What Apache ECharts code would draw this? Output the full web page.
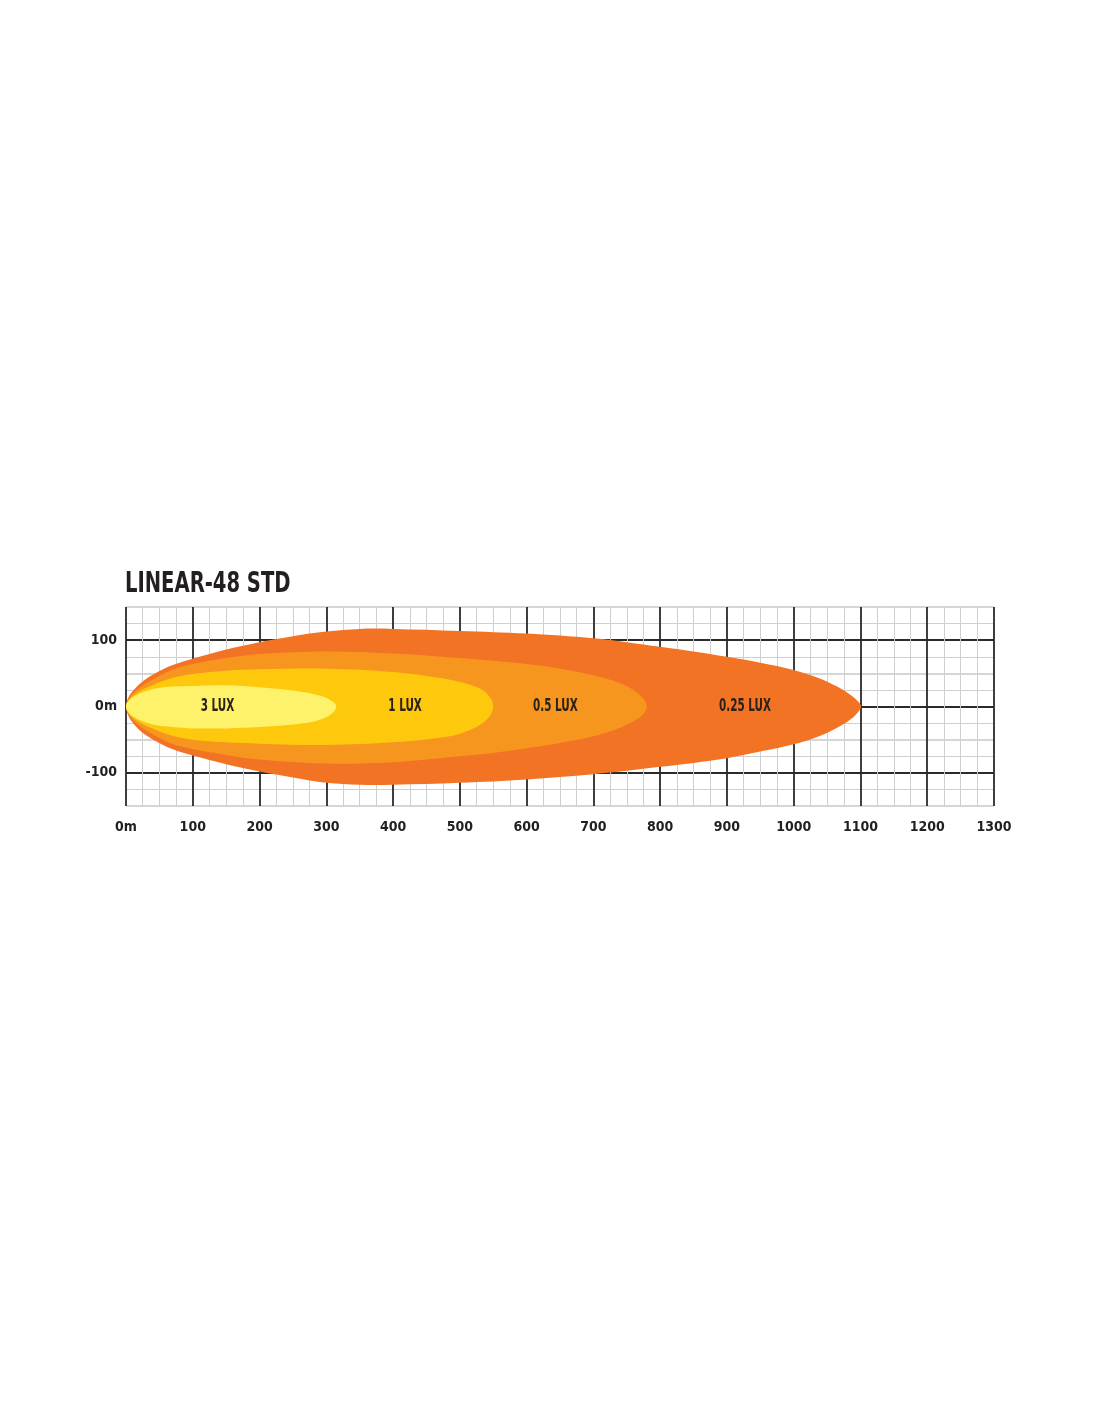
<!DOCTYPE html>
<html>
<head>
<meta charset="utf-8">
<script src="https://cdn.jsdelivr.net/npm/echarts@6/dist/echarts.min.js"></script>
<style>
html,body{margin:0;padding:0;background:#fff;}
#chart{width:1100px;height:1422px;}
</style>
</head>
<body>
<div id="chart"></div>
<script>
// ---- data (metres: distance x, lateral y); each contour starts at the lamp (0,0) ----
const TITLE = 'LINEAR-48 STD';
const X_TICKS = [0,100,200,300,400,500,600,700,800,900,1000,1100,1200,1300];
const Y_TICKS = [-100, 0, 100];

const LUX_025 = [
  [0,0],[2,10],[9,22],[24,37],[44,50],[69,62],[100,72],[150,86],[200,97],[250,106],[300,113],
  [350,117],[400,117],[500,114],[600,110],[700,103],[750,97],[800,90],[850,83],[900,75],[950,66],
  [1000,55],[1040,42],[1065,30],[1083,19],[1095,9],[1101,0],
  [1095,-10],[1083,-21],[1065,-32],[1040,-44],[1000,-57],[950,-68],[900,-78],[850,-85],[800,-91],
  [750,-97],[700,-102],[600,-110],[500,-115],[400,-118],[350,-118],[300,-115],[250,-107],
  [200,-98],[150,-87],[100,-74],[69,-64],[44,-52],[24,-39],[9,-23],[2,-10]
];
const LUX_05 = [
  [0,0],[2,8],[9,18],[24,31],[44,43],[69,55],[100,64],[150,73],[200,79],[300,83],[400,80],
  [500,73],[550,69],[600,64],[650,57],[700,47],[740,35],[764,22],[776,10],[780,0],
  [776,-10],[764,-20],[740,-32],[700,-45],[650,-55],[600,-63],[550,-70],[500,-75],[400,-84],
  [300,-86],[200,-80],[150,-73],[100,-64],[69,-56],[44,-44],[24,-32],[9,-19],[2,-8]
];
const LUX_1 = [
  [0,0],[2,7],[9,15],[24,25],[44,34],[69,43],[100,49],[150,54],[200,56],[300,57],[400,52],
  [470,43],[500,37],[530,27],[545,14],[550,0],
  [545,-14],[530,-28],[500,-41],[470,-47],[400,-54],[300,-58],[200,-56],[150,-54],[100,-50],
  [69,-44],[44,-35],[24,-26],[9,-16],[2,-7]
];
const LUX_3 = [
  [0,0],[2,6],[9,13],[24,21],[44,27],[69,30],[100,31],[150,32],[200,29],[250,24],[280,19],
  [298,14],[310,7],[315,0],
  [310,-9],[298,-17],[280,-23],[250,-27],[200,-31],[150,-33],[100,-33],[69,-31],[44,-28],
  [24,-22],[9,-14],[2,-6]
];
const LABELS = ['3 LUX', '1 LUX', '0.5 LUX', '0.25 LUX'];
const LABEL_X = [137, 418, 643, 927];

// ---- chart ----
const FONT = '"DejaVu Sans Condensed", "Liberation Sans Narrow", "DejaVu Sans", sans-serif';
const chart = echarts.init(document.getElementById('chart'), null, {renderer: 'canvas'});

function shapeSeries(name, pts, color, z) {
  return {
    type: 'custom', name: name, coordinateSystem: 'cartesian2d', silent: true, z: z,
    data: pts,
    renderItem: function (params, api) {
      if (params.dataIndex !== 0) return;
      const points = pts.map(function (p) { return api.coord(p); });
      points.push(points[0].slice()); // close the contour back at the lamp
      return {
        type: 'polyline',
        shape: {points: points, smooth: 0.35},
        style: {fill: color, stroke: null, lineWidth: 0}
      };
    }
  };
}

chart.setOption({
  backgroundColor: '#ffffff',
  animation: false,
  graphic: [{
    type: 'text', x: 125, y: 584, scaleX: 0.75, scaleY: 1,
    style: {
      text: TITLE, fill: '#231f20', verticalAlign: 'middle', align: 'left',
      font: 'bold 29px ' + FONT
    }
  }],
  grid: {left: 126, right: 106, top: 607, bottom: 616, containLabel: false},
  xAxis: {
    type: 'value', min: 0, max: 1300, interval: 100,
    axisLine: {show: false}, axisTick: {show: false},
    axisLabel: {
      margin: 14, fontFamily: FONT, fontWeight: 'bold', fontSize: 14, color: '#231f20',
      formatter: function (v) { return X_TICKS.indexOf(v) < 0 ? '' : (v === 0 ? '0m' : String(v)); }
    },
    splitLine: {show: true, lineStyle: {color: '#2a2a2a', width: 1.8}},
    minorTick: {show: false, splitNumber: 4},
    minorSplitLine: {show: true, lineStyle: {color: '#cfcfcf', width: 1}}
  },
  yAxis: {
    type: 'value', min: -150, max: 150, interval: 50,
    axisLine: {show: false}, axisTick: {show: false},
    axisLabel: {
      margin: 9, fontFamily: FONT, fontWeight: 'bold', fontSize: 14, color: '#231f20',
      formatter: function (v) { return Y_TICKS.indexOf(v) < 0 ? '' : (v === 0 ? '0m' : String(v)); }
    },
    splitLine: {show: true, lineStyle: {color: ['#d6d6d6', '#2a2a2a'], width: 1.8}},
    minorTick: {show: false, splitNumber: 2},
    minorSplitLine: {show: true, lineStyle: {color: '#cfcfcf', width: 1}}
  },
  series: [
    shapeSeries('0.25 LUX', LUX_025, '#F37325', 2),
    shapeSeries('0.5 LUX', LUX_05, '#F7961F', 3),
    shapeSeries('1 LUX', LUX_1, '#FEC90D', 4),
    shapeSeries('3 LUX', LUX_3, '#FEF26A', 5),
    {
      type: 'custom', name: 'labels', coordinateSystem: 'cartesian2d', silent: true, z: 10,
      data: LABELS.map(function (t, i) { return [LABEL_X[i], 0]; }),
      renderItem: function (params, api) {
        const c = api.coord([api.value(0), api.value(1)]);
        return {
          type: 'text', x: c[0], y: c[1], scaleX: 0.68, scaleY: 1,
          style: {
            text: LABELS[params.dataIndex], fill: '#2b2116', align: 'center', verticalAlign: 'middle',
            font: 'bold 17px ' + FONT
          }
        };
      }
    }
  ]
});
</script>
</body>
</html>
